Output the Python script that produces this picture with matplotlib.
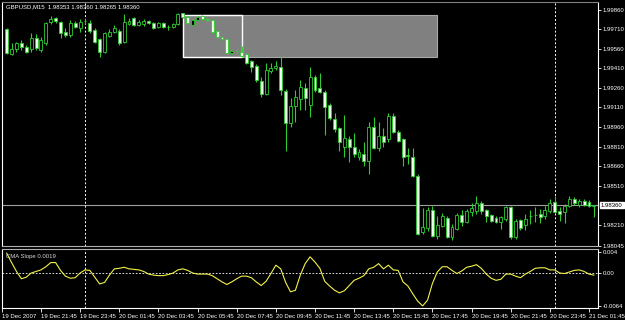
import matplotlib
matplotlib.use('Agg')
import matplotlib.pyplot as plt
import matplotlib.transforms as mtransforms
from matplotlib.patches import Rectangle
import numpy as np
import pandas as pd

plt.rcParams['font.family'] = ['Liberation Sans', 'DejaVu Sans']
fs = 4.3

# GBPUSD M15 bars, first bar 19 Dec 2007 20:00
first_bar = '2007-12-19 20:00'

opens = [
    1.99714, 1.99522, 1.99561, 1.99607, 1.99576, 1.99561, 1.99645, 1.99553, 1.99607, 1.99767,
    1.99798, 1.99767, 1.99691, 1.99668, 1.99760, 1.99722, 1.99775, 1.99760, 1.99706, 1.99637,
    1.99538, 1.99660, 1.99691, 1.99699, 1.99614, 1.99752, 1.99798, 1.99745, 1.99752, 1.99775,
    1.99760, 1.99729, 1.99760, 1.99729, 1.99729, 1.99752, 1.99836, 1.99806, 1.99745, 1.99783,
    1.99813, 1.99790, 1.99783, 1.99699, 1.99653, 1.99637, 1.99530, 1.99545, 1.99538, 1.99522,
    1.99469, 1.99430, 1.99316, 1.99216, 1.99392, 1.99415, 1.99423, 1.99239, 1.98994, 1.99124,
    1.99178, 1.99262, 1.99132, 1.99346, 1.99262, 1.99231, 1.99132, 1.99024, 1.98956, 1.98810,
    1.98871, 1.98810, 1.98733, 1.98756, 1.98695, 1.98963, 1.98802, 1.98894, 1.98871, 1.99047,
    1.98925, 1.98871, 1.98741, 1.98733, 1.98580, 1.98151, 1.98182, 1.98320, 1.98120, 1.98197,
    1.98258, 1.98113, 1.98174, 1.98281, 1.98228, 1.98304, 1.98312, 1.98373, 1.98320, 1.98281,
    1.98258, 1.98228, 1.98251, 1.98343, 1.98113, 1.98243, 1.98205, 1.98274, 1.98281, 1.98289,
    1.98274, 1.98312, 1.98381, 1.98312, 1.98304, 1.98350, 1.98404, 1.98358, 1.98389, 1.98381,
    1.98353]

highs = [
    1.99722, 1.99607, 1.99614, 1.99630, 1.99591, 1.99683, 1.99676, 1.99653, 1.99767, 1.99813,
    1.99806, 1.99775, 1.99722, 1.99783, 1.99775, 1.99790, 1.99798, 1.99783, 1.99722, 1.99645,
    1.99691, 1.99714, 1.99745, 1.99714, 1.99829, 1.99798, 1.99806, 1.99783, 1.99790, 1.99783,
    1.99767, 1.99767, 1.99767, 1.99745, 1.99760, 1.99836, 1.99840, 1.99813, 1.99790, 1.99813,
    1.99821, 1.99806, 1.99790, 1.99706, 1.99660, 1.99645, 1.99553, 1.99568, 1.99584, 1.99530,
    1.99476, 1.99446, 1.99346, 1.99453, 1.99453, 1.99469, 1.99515, 1.99254, 1.99185, 1.99247,
    1.99323, 1.99300, 1.99423, 1.99361, 1.99377, 1.99247, 1.99147, 1.99070, 1.98963, 1.99055,
    1.98894, 1.98917, 1.98787, 1.98848, 1.99001, 1.99040, 1.99001, 1.98956, 1.99070, 1.99070,
    1.98940, 1.98879, 1.98802, 1.98802, 1.98596, 1.98335, 1.98343, 1.98350, 1.98274, 1.98297,
    1.98274, 1.98212, 1.98297, 1.98320, 1.98327, 1.98373, 1.98427, 1.98389, 1.98327, 1.98289,
    1.98274, 1.98274, 1.98350, 1.98350, 1.98251, 1.98251, 1.98289, 1.98320, 1.98343, 1.98327,
    1.98350, 1.98404, 1.98427, 1.98343, 1.98366, 1.98427, 1.98419, 1.98404, 1.98404, 1.98396,
    1.98360]

lows = [
    1.99522, 1.99515, 1.99538, 1.99553, 1.99530, 1.99538, 1.99553, 1.99538, 1.99591, 1.99752,
    1.99760, 1.99645, 1.99653, 1.99653, 1.99722, 1.99691, 1.99752, 1.99683, 1.99607, 1.99499,
    1.99530, 1.99653, 1.99683, 1.99591, 1.99607, 1.99745, 1.99737, 1.99737, 1.99737, 1.99752,
    1.99714, 1.99722, 1.99722, 1.99706, 1.99722, 1.99745, 1.99798, 1.99752, 1.99737, 1.99775,
    1.99783, 1.99767, 1.99683, 1.99645, 1.99630, 1.99522, 1.99522, 1.99530, 1.99499, 1.99446,
    1.99385, 1.99308, 1.99193, 1.99208, 1.99377, 1.99400, 1.99208, 1.98772, 1.98963, 1.99001,
    1.99093, 1.99093, 1.99040, 1.99231, 1.99224, 1.98902, 1.99017, 1.98925, 1.98772, 1.98733,
    1.98688, 1.98726, 1.98710, 1.98657, 1.98596, 1.98787, 1.98772, 1.98810, 1.98848, 1.98917,
    1.98848, 1.98657, 1.98672, 1.98573, 1.98128, 1.98136, 1.98159, 1.98113, 1.98097, 1.98189,
    1.98105, 1.98090, 1.98166, 1.98197, 1.98220, 1.98274, 1.98289, 1.98289, 1.98228, 1.98228,
    1.98220, 1.98174, 1.98235, 1.98097, 1.98097, 1.98166, 1.98166, 1.98212, 1.98228, 1.98220,
    1.98251, 1.98297, 1.98297, 1.98235, 1.98220, 1.98343, 1.98358, 1.98343, 1.98350, 1.98343,
    1.98265]

closes = [
    1.99530, 1.99561, 1.99607, 1.99576, 1.99538, 1.99645, 1.99568, 1.99630, 1.99760, 1.99790,
    1.99775, 1.99683, 1.99668, 1.99760, 1.99729, 1.99767, 1.99772, 1.99699, 1.99614, 1.99538,
    1.99683, 1.99691, 1.99722, 1.99607, 1.99767, 1.99775, 1.99745, 1.99767, 1.99775, 1.99760,
    1.99722, 1.99760, 1.99729, 1.99727, 1.99752, 1.99829, 1.99806, 1.99760, 1.99783, 1.99806,
    1.99790, 1.99783, 1.99691, 1.99653, 1.99637, 1.99530, 1.99545, 1.99543, 1.99507, 1.99453,
    1.99423, 1.99323, 1.99216, 1.99400, 1.99415, 1.99430, 1.99247, 1.98994, 1.99124, 1.99193,
    1.99270, 1.99185, 1.99346, 1.99247, 1.99231, 1.99116, 1.99032, 1.98948, 1.98841, 1.98879,
    1.98810, 1.98749, 1.98764, 1.98695, 1.98963, 1.98802, 1.98887, 1.98841, 1.99047, 1.98925,
    1.98856, 1.98733, 1.98739, 1.98580, 1.98136, 1.98189, 1.98320, 1.98120, 1.98205, 1.98274,
    1.98113, 1.98189, 1.98281, 1.98228, 1.98312, 1.98335, 1.98373, 1.98312, 1.98274, 1.98235,
    1.98228, 1.98266, 1.98343, 1.98113, 1.98235, 1.98182, 1.98251, 1.98272, 1.98283, 1.98266,
    1.98320, 1.98373, 1.98304, 1.98289, 1.98350, 1.98404, 1.98373, 1.98389, 1.98358, 1.98350,
    1.98360]

# CMA slope indicator, one value per bar
slope = [
    0.0038, 0.0020, 0.0003, -0.0011, -0.0008, 0.0000, 0.0003, 0.0006, 0.0012, 0.0020,
    0.0020, 0.0005, -0.0006, -0.0010, -0.0009, 0.0000, 0.0006, 0.0005, -0.0008, -0.0021,
    -0.0018, -0.0004, 0.0008, 0.0009, 0.0011, 0.0008, 0.0007, 0.0006, 0.0003, -0.0002,
    -0.0004, -0.0005, -0.0005, -0.0003, 0.0000, 0.0006, 0.0008, 0.0005, 0.0000, -0.0002,
    -0.0002, -0.0002, -0.0005, -0.0011, -0.0017, -0.0022, -0.0017, -0.0011, -0.0006, -0.0006,
    -0.0009, -0.0017, -0.0024, -0.0016, -0.0001, 0.0015, 0.0008, -0.0018, -0.0036, -0.0033,
    -0.0004, 0.0018, 0.0031, 0.0021, 0.0009, -0.0016, -0.0025, -0.0033, -0.0038, -0.0034,
    -0.0024, -0.0014, -0.0010, -0.0005, 0.0008, 0.0011, 0.0018, 0.0008, 0.0015, 0.0006,
    0.0005, -0.0017, -0.0025, -0.0040, -0.0054, -0.0063, -0.0052, -0.0020, 0.0002, 0.0012,
    0.0012, 0.0005, -0.0001, 0.0004, 0.0011, 0.0013, 0.0016, 0.0009, -0.0002, -0.0010,
    -0.0014, -0.0012, -0.0002, -0.0002, -0.0006, -0.0009, -0.0002, 0.0003, 0.0009, 0.0010,
    0.0010, 0.0006, 0.0006, 0.0000, -0.0001, 0.0002, 0.0005, 0.0006, 0.0003, -0.0002,
    -0.0004]

price_ticks = [1.99860, 1.99710, 1.99560, 1.99410, 1.99260, 1.99110, 1.98960,
               1.98810, 1.98660, 1.98510, 1.98210, 1.98045]
bid_price = 1.98360
slope_ticks = [0.004, 0.0, -0.0064]
slope_tick_labels = ['0.004', '0.00', '-0.0064']
header = 'GBPUSD,M15  1.98353 1.98360 1.98265 1.98360'
ind_name = 'CMA Slope 0.0019'

# rectangle objects on the chart (time, price)
box_t1, box_t2, box_t3 = '2007-12-20 05:00', '2007-12-20 08:00', '2007-12-20 18:00'
box_top, box_bottom = 1.99821, 1.99499

n = len(closes)
times = pd.date_range(first_bar, periods=n, freq='15min')
x = np.arange(n)
o = np.array(opens); c = np.array(closes)
h = np.array(highs); l = np.array(lows)

green = '#2ecc2e'
white_fill = '#e8ffe8'

fig = plt.figure(figsize=(6.25, 3.2), dpi=100, facecolor='black')
ax = fig.add_axes([2/625, 74/320, 596/625, 244/320], facecolor='black')
ax2 = fig.add_axes([2/625, 12/320, 596/625, 59/320], facecolor='black')

xlim = (-0.96, 120.84)

# rectangles
t1 = times.get_loc(pd.Timestamp(box_t1))
t2 = times.get_loc(pd.Timestamp(box_t2))
t3 = times.get_loc(pd.Timestamp(box_t3))
ax.add_patch(Rectangle((t1, box_bottom), t3 - t1, box_top - box_bottom,
                       facecolor='#808080', edgecolor='#a8a8a8', lw=0.8, zorder=1))
ax.add_patch(Rectangle((t1, box_bottom), t2 - t1, box_top - box_bottom,
                       fill=False, edgecolor='white', lw=1.0, zorder=1.5))

# bid line
ax.axhline(bid_price, color='#a0a0a0', lw=0.8, zorder=1)

# candles
ax.vlines(x, l, h, color=green, lw=0.8, zorder=3)
up = c >= o
bottoms = np.minimum(o, c)
heights = np.abs(c - o)
ax.bar(x[up], heights[up], bottom=bottoms[up], width=0.6, color='black',
       edgecolor=green, linewidth=0.6, zorder=4)
ax.bar(x[~up], heights[~up], bottom=bottoms[~up], width=0.6, color=white_fill,
       edgecolor=green, linewidth=0.6, zorder=4)

# period separators at midnight
midnights = [i for i, t in enumerate(times) if t.hour == 0 and t.minute == 0]
for a in (ax, ax2):
    for m in midnights:
        a.axvline(m, color='white', lw=0.7, ls=(0, (2, 2)), zorder=2)
    a.set_xlim(*xlim)

ax.set_ylim(1.98052, 1.99921)
ax.set_xticks([])
ax.yaxis.tick_right()
ax.set_yticks(price_ticks)
ax.set_yticklabels(['%.5f' % p for p in price_ticks])
ax.tick_params(axis='y', colors='white', labelsize=fs, length=2.5, width=0.6, pad=1)
ax.spines['top'].set_color('#808080')
ax.spines['bottom'].set_color('#b0b0b0')
ax.spines['left'].set_color('white')
ax.spines['right'].set_color('white')
for s in ax.spines.values():
    s.set_linewidth(0.8)

trans = mtransforms.blended_transform_factory(ax.transAxes, ax.transData)
ax.text(1.0 + 3/596, bid_price, '%.5f' % bid_price, transform=trans, va='center',
        ha='left', fontsize=fs, color='black',
        bbox=dict(facecolor='white', edgecolor='white', pad=0.6))
ax.text(4/596, 1 - 5/244, header, transform=ax.transAxes, va='center', ha='left',
        fontsize=fs, color='white')

# indicator
ax2.plot(x, slope, color='#f2f24a', lw=0.8, zorder=3)
ax2.axhline(0, color='white', lw=0.6, ls=(0, (2, 2)), zorder=2)
ax2.set_ylim(-0.0067, 0.0046)
ax2.yaxis.tick_right()
ax2.set_yticks(slope_ticks)
ax2.set_yticklabels(slope_tick_labels)
ax2.tick_params(axis='y', colors='white', labelsize=fs, length=2.5, width=0.6, pad=1)
ax2.text(4/596, 0.88, ind_name, transform=ax2.transAxes, va='center', ha='left',
         fontsize=fs, color='#d8d8d8')

# time labels every 2 hours from 21:45
label_times = [t for t in times if t.minute == 45 and t.hour % 2 == 1]
label_pos = [xlim[0] + 0.1] + [times.get_loc(t) for t in label_times]
label_txt = ['19 Dec 2007'] + [t.strftime('%d %b %H:%M') for t in label_times]
ax2.set_xticks(label_pos)
ax2.set_xticklabels(label_txt, ha='left')
ax2.tick_params(axis='x', colors='white', labelsize=fs, length=3, width=0.6, pad=1)
ax2.spines['top'].set_color('#b0b0b0')
for side in ('left', 'right', 'bottom'):
    ax2.spines[side].set_color('white')
for s in ax2.spines.values():
    s.set_linewidth(0.8)

fig.savefig('out.png', dpi=100, facecolor='black')
